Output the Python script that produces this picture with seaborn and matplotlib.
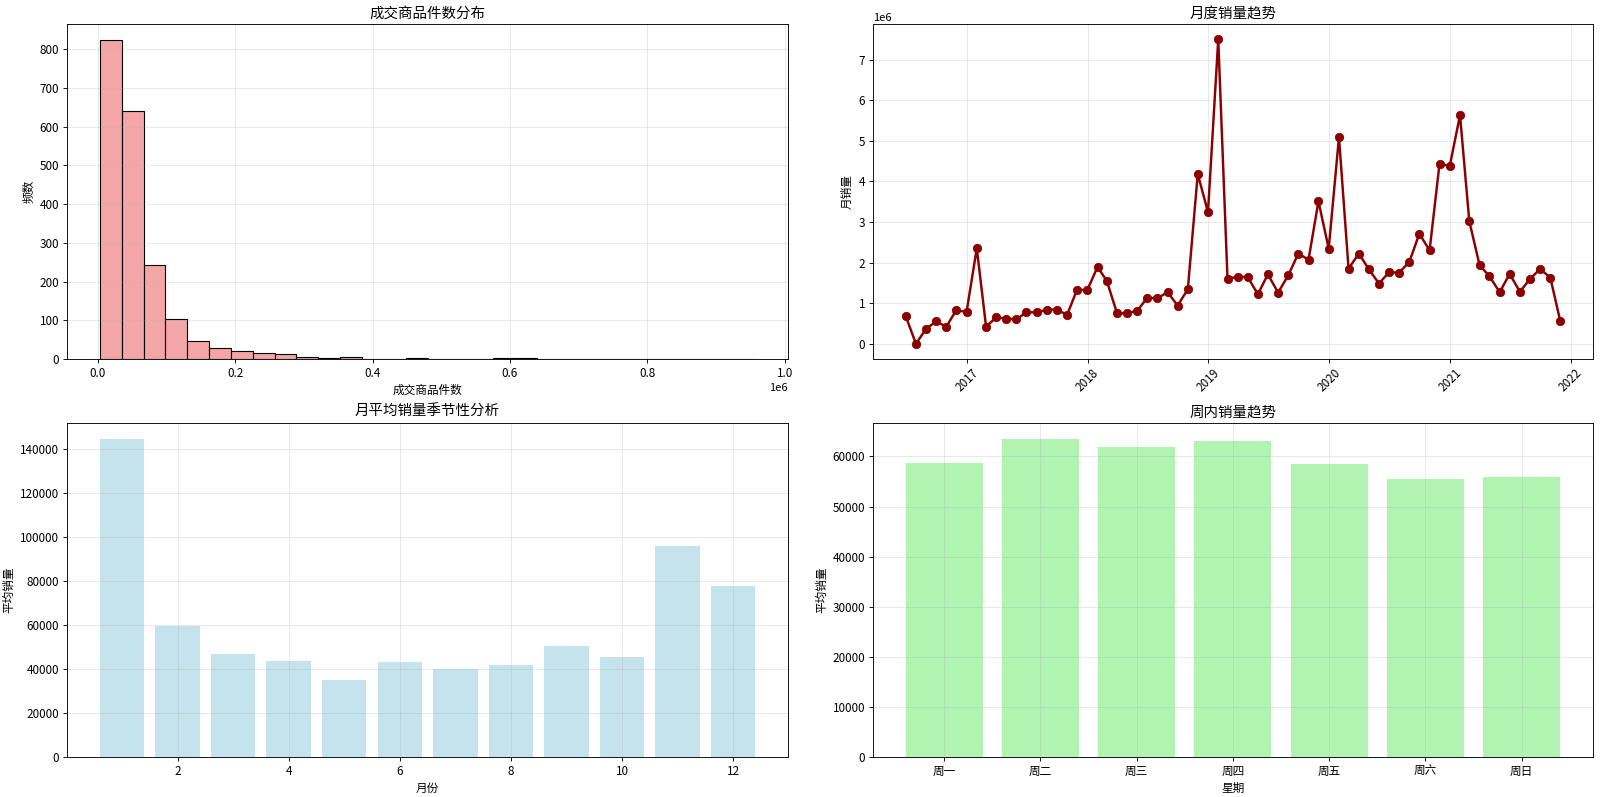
"""
电商销量分析图 - 四宫格
"""
import matplotlib
matplotlib.use('Agg')
import matplotlib.pyplot as plt
import seaborn as sns
import numpy as np
import pandas as pd

plt.rcParams['font.family'] = ['Noto Sans CJK SC', 'DejaVu Sans']
plt.rcParams['axes.unicode_minus'] = False

# 成交商品件数分布：30 个分箱的频数
hist_lo, hist_hi, n_bins = 0.003e6, 0.957e6, 30
hist_counts = [824, 640, 242, 102, 47, 28, 20, 15, 12, 6, 3, 6, 0, 0, 3,
               0, 0, 0, 2, 2, 1, 0, 0, 1, 1, 0, 0, 0, 0, 1]

# 月度销量（单位：百万），2016-06 ~ 2021-11
month_start, month_end = '2016-06-30', '2021-11-30'
monthly_sales_m = [0.68, 0.00, 0.37, 0.55, 0.42, 0.83, 0.78,
                   2.35, 0.42, 0.65, 0.62, 0.60, 0.78, 0.77, 0.84, 0.84, 0.71, 1.33, 1.32,
                   1.89, 1.55, 0.75, 0.75, 0.81, 1.13, 1.12, 1.27, 0.94, 1.34, 4.18, 3.24,
                   7.50, 1.60, 1.65, 1.64, 1.22, 1.71, 1.26, 1.69, 2.22, 2.07, 3.51, 2.34,
                   5.09, 1.85, 2.22, 1.84, 1.48, 1.76, 1.75, 2.02, 2.71, 2.30, 4.43, 4.38,
                   5.63, 3.02, 1.94, 1.66, 1.27, 1.72, 1.28, 1.60, 1.84, 1.63, 0.56]

# 月平均销量
months = list(range(1, 13))
month_avg = [144700, 59800, 46700, 43500, 34800, 43300,
             39800, 42000, 50600, 45600, 95800, 77900]

# 周内平均销量
weekdays = ['周一', '周二', '周三', '周四', '周五', '周六', '周日']
weekday_avg = [58600, 63500, 61900, 63000, 58500, 55500, 55900]

fig, axes = plt.subplots(2, 2, figsize=(20, 9.9625), dpi=80)

# 1. 成交商品件数分布
ax = axes[0, 0]
edges = np.linspace(hist_lo, hist_hi, n_bins + 1)
hist_df = pd.DataFrame({'center': (edges[:-1] + edges[1:]) / 2, 'count': hist_counts})
sns.histplot(data=hist_df, x='center', weights='count', bins=edges.tolist(),
             color='lightcoral', alpha=0.7, edgecolor='black', linewidth=1, ax=ax)
ax.set_title('成交商品件数分布', fontsize=13)
ax.set_xlabel('成交商品件数', fontsize=10.5)
ax.set_ylabel('频数', fontsize=10.5)
ax.grid(True, alpha=0.3)

# 2. 月度销量趋势
ax = axes[0, 1]
dates = pd.date_range(month_start, month_end, freq='ME')
monthly = pd.DataFrame({'date': dates, 'sales': np.array(monthly_sales_m) * 1e6})
sns.lineplot(data=monthly, x='date', y='sales', color='darkred', linewidth=2.2,
             marker='o', markersize=7.5, markeredgecolor='darkred', ax=ax)
ax.set_title('月度销量趋势', fontsize=13)
ax.set_xlabel('')
ax.set_ylabel('月销量', fontsize=10.5)
ax.tick_params(axis='x', rotation=45)
ax.grid(True, alpha=0.3)

# 3. 月平均销量季节性分析
ax = axes[1, 0]
ax.bar(months, month_avg, color='lightblue', alpha=0.7)
ax.set_title('月平均销量季节性分析', fontsize=13)
ax.set_xlabel('月份', fontsize=10.5)
ax.set_ylabel('平均销量', fontsize=10.5)
ax.grid(True, alpha=0.3)

# 4. 周内销量趋势
ax = axes[1, 1]
sns.barplot(x=weekdays, y=weekday_avg, color='lightgreen', alpha=0.7,
            saturation=1, width=0.8, ax=ax)
ax.set_xlim(-0.74, 6.74)
ax.set_title('周内销量趋势', fontsize=13)
ax.set_xlabel('星期', fontsize=10.5)
ax.set_ylabel('平均销量', fontsize=10.5)
ax.grid(True, alpha=0.3)

for a in axes.flat:
    a.tick_params(labelsize=10.5)

# 子图位置（按参考图像素换算）
axes[0, 0].set_position([0.0419, 0.5496, 0.4506, 0.4203])
axes[0, 1].set_position([0.5456, 0.5496, 0.45, 0.4203])
axes[1, 0].set_position([0.0419, 0.0502, 0.4506, 0.4191])
axes[1, 1].set_position([0.5456, 0.0502, 0.45, 0.4191])

plt.savefig('out.png', dpi=80)
